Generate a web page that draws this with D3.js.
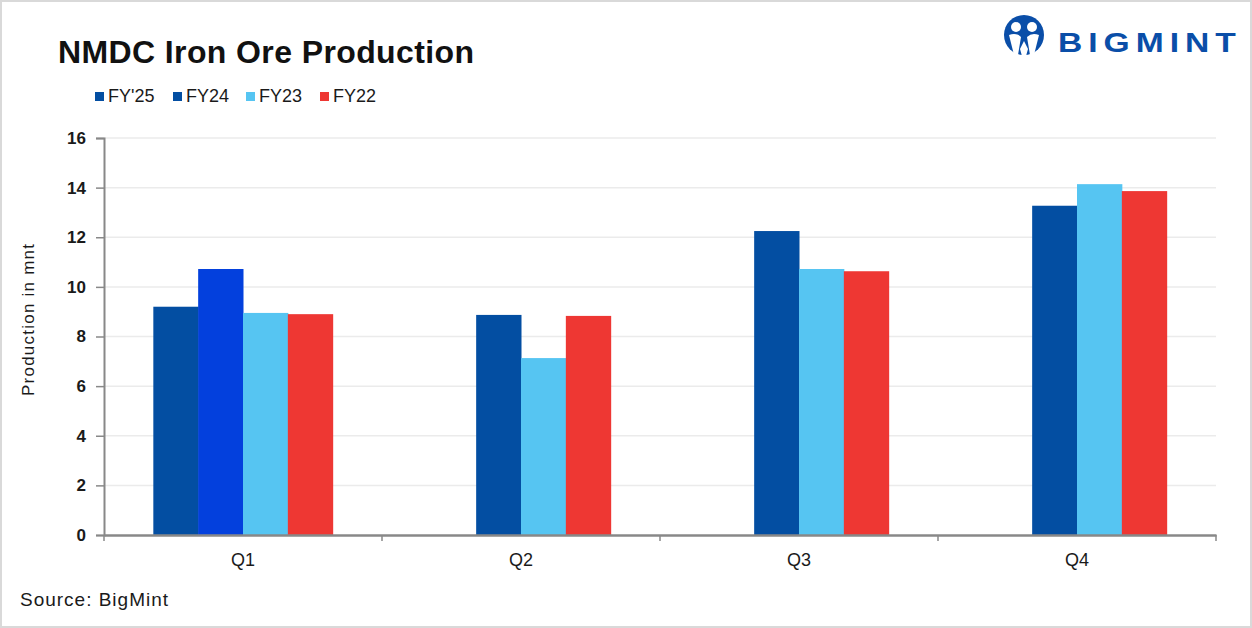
<!DOCTYPE html>
<html>
<head>
<meta charset="utf-8">
<script src="https://cdn.jsdelivr.net/npm/d3@7"></script>
<style>
  body { margin: 0; background: #fff; }
  #chart { width: 1252px; height: 628px; }
  text { font-family: "Liberation Sans", Arial, sans-serif; }
</style>
</head>
<body>
<div id="chart"></div>
<script>
const quarters = ["Q1", "Q2", "Q3", "Q4"];
const seriesNames = ["FY'25", "FY24", "FY23", "FY22"];
const fy25 = [9.2, null, null, null];
const fy24 = [10.72, 8.87, 12.25, 13.27];
const fy23 = [8.95, 7.13, 10.72, 14.14];
const fy22 = [8.9, 8.83, 10.63, 13.86];
const yTicks = [0, 2, 4, 6, 8, 10, 12, 14, 16];

function drawChart() {
    const width = 1252, height = 628;
    const svg = d3.select("#chart").append("svg")
        .attr("width", width)
        .attr("height", height);

    // outer frame
    svg.append("rect")
        .attr("x", 1).attr("y", 1)
        .attr("width", width - 2).attr("height", height - 2)
        .attr("fill", "#fff")
        .attr("stroke", "#d9d9d9")
        .attr("stroke-width", 2);

    const margin = { top: 138, right: 36, bottom: 93, left: 104 };
    const innerWidth = width - margin.left - margin.right;
    const innerHeight = height - margin.top - margin.bottom;

    const g = svg.append("g")
        .attr("transform", `translate(${margin.left},${margin.top})`);

    const colour = d3.scaleOrdinal()
        .domain(seriesNames)
        .range(["#034ea2", "#034ea2", "#56c5f2", "#ee3733"]);
    // one point in Q1 is drawn in a brighter blue
    const highlight = { series: "FY24", quarter: "Q1", colour: "#0340dd" };

    const values = { "FY'25": fy25, "FY24": fy24, "FY23": fy23, "FY22": fy22 };

    const x = d3.scaleBand().domain(quarters).range([0, innerWidth]);
    const xs = d3.scaleBand().domain(seriesNames)
        .range([0, x.bandwidth()])
        .paddingInner(0)
        .paddingOuter(1.1);
    const y = d3.scaleLinear().domain([0, 16]).range([innerHeight, 0]);

    // gridlines
    g.append("g")
        .selectAll("line")
        .data(yTicks.slice(1))
        .enter()
        .append("line")
        .attr("x1", 0).attr("x2", innerWidth)
        .attr("y1", d => y(d)).attr("y2", d => y(d))
        .attr("stroke", "#ebebeb")
        .attr("stroke-width", 1.5);

    // bars
    const groups = g.selectAll(".grp")
        .data(quarters)
        .enter()
        .append("g")
        .attr("transform", d => `translate(${x(d)},0)`);

    groups.selectAll("rect")
        .data((q, qi) => seriesNames
            .map(s => ({ s: s, q: q, v: values[s][qi] }))
            .filter(d => d.v !== null))
        .enter()
        .append("rect")
        .attr("x", d => xs(d.s))
        .attr("width", xs.bandwidth() + 0.5)
        .attr("y", d => y(d.v))
        .attr("height", d => innerHeight - y(d.v))
        .attr("fill", d => (d.s === highlight.series && d.q === highlight.quarter)
            ? highlight.colour : colour(d.s));

    // y axis
    const yAxis = g.append("g")
        .call(d3.axisLeft(y).tickValues(yTicks).tickSize(8).tickPadding(10));
    yAxis.select(".domain").attr("stroke", "#888").attr("stroke-width", 2);
    yAxis.selectAll(".tick line").attr("stroke", "#888").attr("stroke-width", 1.5);
    yAxis.selectAll(".tick text")
        .style("font-size", "17px")
        .style("font-weight", "bold")
        .attr("fill", "#1a1a1a");

    // x axis with ticks at category boundaries
    const xAxis = g.append("g")
        .attr("transform", `translate(0,${innerHeight})`)
        .call(d3.axisBottom(x).tickSize(0).tickPadding(18));
    xAxis.select(".domain").attr("stroke", "#888").attr("stroke-width", 2.5);
    xAxis.selectAll(".tick text")
        .style("font-size", "18px")
        .attr("fill", "#1a1a1a");
    xAxis.selectAll(".bound")
        .data(quarters.concat(["end"]))
        .enter()
        .append("line")
        .attr("x1", (d, i) => i * x.step())
        .attr("x2", (d, i) => i * x.step())
        .attr("y1", 0).attr("y2", 6)
        .attr("stroke", "#888")
        .attr("stroke-width", 1.5);

    // title
    svg.append("text")
        .attr("x", 58).attr("y", 63)
        .attr("textLength", 416)
        .attr("lengthAdjust", "spacing")
        .style("font-size", "32px")
        .style("font-weight", "bold")
        .attr("fill", "#111")
        .text("NMDC Iron Ore Production");

    // legend
    const legendX = [95, 173, 246, 320];
    const legend = svg.selectAll(".lg")
        .data(seriesNames)
        .enter()
        .append("g")
        .attr("transform", (d, i) => `translate(${legendX[i]},92)`);
    legend.append("rect")
        .attr("x", 0).attr("y", 0)
        .attr("width", 9).attr("height", 9)
        .attr("fill", d => colour(d));
    legend.append("text")
        .attr("x", 13).attr("y", 10)
        .style("font-size", "18px")
        .attr("fill", "#1a1a1a")
        .text(d => d);

    // y axis title
    svg.append("text")
        .attr("transform", "translate(34,320) rotate(-90)")
        .attr("text-anchor", "middle")
        .attr("textLength", 152)
        .attr("lengthAdjust", "spacing")
        .style("font-size", "17px")
        .attr("fill", "#1a1a1a")
        .text("Production in mnt");

    // source
    svg.append("text")
        .attr("x", 20).attr("y", 606)
        .attr("textLength", 148)
        .attr("lengthAdjust", "spacing")
        .style("font-size", "19px")
        .attr("fill", "#1a1a1a")
        .text("Source: BigMint");

    // logo
    const logo = svg.append("g").attr("transform", "translate(1024,35)");
    const blue = "#0a4ea8";
    logo.append("circle").attr("r", 20).attr("fill", blue);
    logo.append("circle").attr("cx", -8).attr("cy", -8).attr("r", 5).attr("fill", "#fff");
    logo.append("circle").attr("cx", 8).attr("cy", -8).attr("r", 5).attr("fill", "#fff");
    logo.append("path")
        .attr("d", "M-15,0 Q-8,-3 -3,2 L-6,20 L-10,20 Z M15,0 Q8,-3 3,2 L6,20 L10,20 Z")
        .attr("fill", "#fff");
    logo.append("path")
        .attr("d", "M-4,14 L0,6 L4,14 L2,21 L-2,21 Z")
        .attr("fill", "#fff");
    svg.append("g")
        .attr("transform", "translate(1058,52) scale(1.2,1)")
        .append("text")
        .attr("x", 0).attr("y", 0)
        .style("font-size", "28px")
        .style("font-weight", "900")
        .style("letter-spacing", "5px")
        .attr("fill", blue)
        .text("BIGMINT");
}

drawChart();
</script>
</body>
</html>
